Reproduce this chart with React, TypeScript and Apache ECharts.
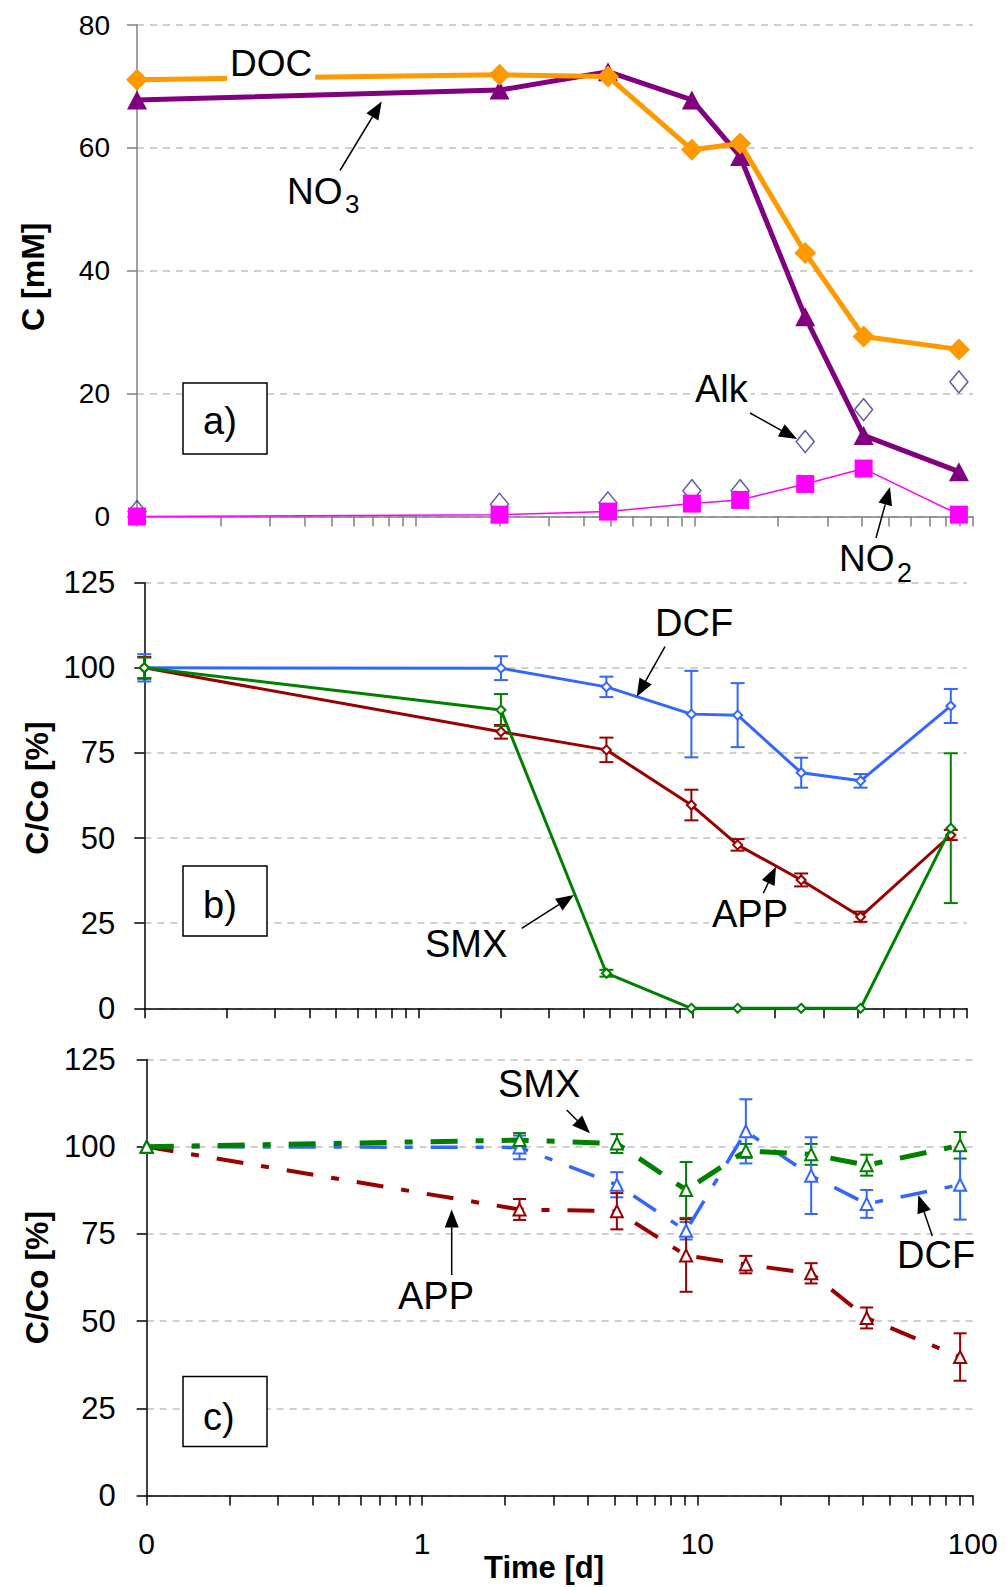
import React, { useEffect, useRef } from 'react';
import * as echarts from 'echarts';

const FONT = '"Liberation Sans", Arial, Helvetica, sans-serif';

// ---------- Panel a) concentrations [mM] ----------
const timeA = [0, 2, 4.9, 9.8, 14.6, 25, 40.5, 89];
const docA = [71.1, 71.9, 71.6, 59.7, 60.7, 42.9, 29.3, 27.2];
const no3A = [67.8, 69.4, 72.4, 67.8, 58.6, 32.5, 13.2, 7.3];
const no2A = [0, 0.3, 0.8, 2.1, 2.7, 5.3, 7.8, 0.3];
const alkA = [0.8, 2.0, 2.2, 4.2, 4.2, 12.2, 17.4, 21.9];

// ---------- Panel b) C/Co [%] (solid lines) ----------
const timeB = [0, 2, 4.85, 9.9, 14.6, 24.9, 41, 87.5];
const dcfB = [100, 99.9, 94.4, 86.4, 86.1, 69.2, 66.8, 88.8];
const dcfErrB = [4, 3.5, 3, 12.7, 9.4, 4.4, 2, 5];
const appB = [100, 81.2, 75.9, 59.7, 48.0, 37.7, 26.9, 50.9];
const appErrB = [3.2, 2, 3.6, 4.5, 1.7, 1.9, 1.5, 1.5];
const smxB = [100, 87.6, 10.3, 0, 0, 0, 0, 52.9];
const smxErrB = [3, 4.7, 1, 0, 0, 0, 0, 22];

// ---------- Panel c) C/Co [%] (dash-dot lines) ----------
const timeC = [0, 2.26, 5.1, 9.1, 15, 25.9, 41.2, 90];
const smxC = [100, 101.9, 100.9, 87.6, 98.8, 97.8, 94.7, 100.4];
const smxErrC = [0, 2, 2.7, 8, 2, 3, 3, 3.8];
const dcfC = [100, 99.8, 89.1, 75.9, 104.4, 91.7, 83.6, 89.1];
const dcfErrC = [0, 3.4, 3.6, 2.5, 9.2, 11, 4, 10];
const appC = [100, 82.0, 81.5, 68.8, 66.2, 63.7, 50.9, 39.7];
const appErrC = [0, 3, 5.2, 10.4, 2.5, 2.9, 3, 6.8];

const xTickLabels = ['0', '1', '10', '100'];
const xAxisTitle = 'Time [d]';

const ORANGE = '#FF9900';
const PURPLE = '#800080';
const MAGENTA = '#FF00FF';
const NAVY = '#333399';
const BLUE = '#3366FF';
const RED = '#990000';
const GREEN = '#008000';
const GRIDC = '#c0c0c0';

// time 0 is drawn at the left end (0.1) of the log axis
const onLog = (t: number) => (t === 0 ? 0.1 : t);
const pts = (times: number[], vals: number[]) => times.map((t, i) => [onLog(t), vals[i]]);

function errSeries(idx: number, times: number[], means: number[], errs: number[], color: string, capW: number, lw: number) {
  const data = times
    .map((t, i) => [onLog(t), means[i] - errs[i], means[i] + errs[i]])
    .filter((d) => d[2] - d[1] > 0);
  return {
    type: 'custom',
    xAxisIndex: idx,
    yAxisIndex: idx,
    data,
    encode: { x: 0, y: [1, 2] },
    silent: true,
    z: 3,
    renderItem: (params: any, api: any) => {
      const x = api.value(0);
      const a = api.coord([x, api.value(2)]);
      const b = api.coord([x, api.value(1)]);
      const h = capW / 2;
      const st = { stroke: color, lineWidth: lw };
      return {
        type: 'group',
        children: [
          { type: 'line', shape: { x1: a[0], y1: a[1], x2: b[0], y2: b[1] }, style: st },
          { type: 'line', shape: { x1: a[0] - h, y1: a[1], x2: a[0] + h, y2: a[1] }, style: st },
          { type: 'line', shape: { x1: b[0] - h, y1: b[1], x2: b[0] + h, y2: b[1] }, style: st },
        ],
      };
    },
  };
}

function arrow(x1: number, y1: number, x2: number, y2: number, headLen = 18, headW = 14) {
  const dx = x2 - x1;
  const dy = y2 - y1;
  const L = Math.hypot(dx, dy);
  const ux = dx / L;
  const uy = dy / L;
  const bx = x2 - ux * headLen;
  const by = y2 - uy * headLen;
  const px = (-uy * headW) / 2;
  const py = (ux * headW) / 2;
  return [
    { type: 'line', z: 100, shape: { x1, y1, x2: bx, y2: by }, style: { stroke: '#000', lineWidth: 1.5 } },
    {
      type: 'polygon',
      z: 100,
      shape: { points: [[x2, y2], [bx + px, by + py], [bx - px, by - py]] },
      style: { fill: '#000' },
    },
  ];
}

function label(text: string, x: number, y: number, size = 37, bg = true) {
  return {
    type: 'text',
    z: 99,
    x,
    y,
    style: {
      text,
      fontSize: size,
      fontFamily: FONT,
      fill: '#000',
      align: 'left',
      verticalAlign: 'middle',
      backgroundColor: bg ? '#fff' : undefined,
      padding: bg ? [0, 3] : 0,
    },
  };
}

function panelBox(txt: string, x: number, y: number, w: number, h: number, ty: number) {
  return [
    { type: 'rect', z: 98, shape: { x, y, width: w, height: h }, style: { fill: '#fff', stroke: '#000', lineWidth: 1.5 } },
    label(txt, x + 20, ty, 38, false),
  ];
}

function xAxisCfg(idx: number, color: string, showLabels: boolean) {
  return {
    gridIndex: idx,
    type: 'log',
    logBase: 10,
    min: 0.1,
    max: 100,
    axisLine: { show: true, onZero: false, lineStyle: { color, width: 1.5 } },
    axisTick: { show: true, length: 10, lineStyle: { color, width: 1.5 } },
    minorTick: { show: true, splitNumber: 9, length: 10, lineStyle: { color, width: 1.5 } },
    splitLine: { show: false },
    minorSplitLine: { show: false },
    axisLabel: {
      show: showLabels,
      fontSize: 30,
      fontFamily: FONT,
      color: '#000',
      margin: 33,
      formatter: (v: number) => xTickLabels[Math.round(Math.log10(v)) + 1] ?? String(v),
    },
  };
}

function yAxisCfg(idx: number, max: number, interval: number, color: string, fs: number, margin: number, name: string, nameGap: number, padding: number[]) {
  return {
    gridIndex: idx,
    type: 'value',
    min: 0,
    max,
    interval,
    axisLine: { show: true, onZero: false, lineStyle: { color, width: 1.5 } },
    axisTick: { show: true, length: 10, lineStyle: { color, width: 1.5 } },
    axisLabel: { fontSize: fs, fontFamily: FONT, color: '#000', margin },
    splitLine: { show: true, lineStyle: { color: GRIDC, type: [7, 6], width: 1.5 } },
    name,
    nameLocation: 'middle',
    nameRotate: 90,
    nameGap,
    nameTextStyle: { fontSize: 32, fontWeight: 'bold', fontFamily: FONT, color: '#000', padding },
  };
}

const DASHDOT = [27, 18, 8, 18];

export default function App() {
  const ref = useRef<HTMLDivElement>(null);

  useEffect(() => {
    if (!ref.current) return;
    const chart = echarts.init(ref.current, undefined, { renderer: 'svg' });

    const option: any = {
      animation: false,
      backgroundColor: '#ffffff',
      grid: [
        { left: 137, top: 25, width: 836, height: 491.5, outerBoundsMode: 'none', containLabel: false },
        { left: 144.3, top: 582.7, width: 822.4, height: 425.6, outerBoundsMode: 'none', containLabel: false },
        { left: 146.7, top: 1059.5, width: 826, height: 436, outerBoundsMode: 'none', containLabel: false },
      ],
      xAxis: [xAxisCfg(0, '#808080', false), xAxisCfg(1, '#000', false), xAxisCfg(2, '#000', true)],
      yAxis: [
        yAxisCfg(0, 80, 20, '#808080', 28, 27, 'C [mM]', 88, [0, 12, 0, 0]),
        yAxisCfg(1, 125, 25, '#000', 31, 29, 'C/Co [%]', 80, [0, 0, 0, 15]),
        yAxisCfg(2, 125, 25, '#000', 31, 31, 'C/Co [%]', 87, [0, 0, 0, 0]),
      ],
      series: [
        // ----- panel a -----
        {
          name: 'Alk',
          type: 'scatter',
          xAxisIndex: 0,
          yAxisIndex: 0,
          data: pts(timeA, alkA),
          symbol: 'diamond',
          symbolSize: [18, 22],
          itemStyle: { color: 'rgba(255,255,255,0)', borderColor: NAVY, borderWidth: 1.5 },
          z: 2,
        },
        {
          name: 'NO2',
          type: 'line',
          xAxisIndex: 0,
          yAxisIndex: 0,
          data: pts(timeA, no2A),
          symbol: 'rect',
          symbolSize: 18,
          itemStyle: { color: MAGENTA },
          lineStyle: { color: MAGENTA, width: 1.5 },
          z: 3,
        },
        {
          name: 'NO3',
          type: 'line',
          xAxisIndex: 0,
          yAxisIndex: 0,
          data: pts(timeA, no3A),
          symbol: 'triangle',
          symbolSize: [20, 19],
          itemStyle: { color: PURPLE },
          lineStyle: { color: PURPLE, width: 5 },
          z: 4,
        },
        {
          name: 'DOC',
          type: 'line',
          xAxisIndex: 0,
          yAxisIndex: 0,
          data: pts(timeA, docA),
          symbol: 'diamond',
          symbolSize: 22,
          itemStyle: { color: ORANGE },
          lineStyle: { color: ORANGE, width: 5 },
          z: 5,
        },
        // ----- panel b -----
        errSeries(1, timeB, dcfB, dcfErrB, BLUE, 14, 2),
        errSeries(1, timeB, appB, appErrB, RED, 14, 2),
        errSeries(1, timeB, smxB, smxErrB, GREEN, 14, 2),
        {
          name: 'DCF b',
          type: 'line',
          xAxisIndex: 1,
          yAxisIndex: 1,
          data: pts(timeB, dcfB),
          symbol: 'emptyDiamond',
          symbolSize: 9,
          itemStyle: { color: BLUE, borderWidth: 1.5 },
          lineStyle: { color: BLUE, width: 3 },
          z: 4,
        },
        {
          name: 'APP b',
          type: 'line',
          xAxisIndex: 1,
          yAxisIndex: 1,
          data: pts(timeB, appB),
          symbol: 'emptyDiamond',
          symbolSize: 9,
          itemStyle: { color: RED, borderWidth: 1.5 },
          lineStyle: { color: RED, width: 3 },
          z: 4,
        },
        {
          name: 'SMX b',
          type: 'line',
          xAxisIndex: 1,
          yAxisIndex: 1,
          data: pts(timeB, smxB),
          symbol: 'emptyDiamond',
          symbolSize: 9,
          itemStyle: { color: GREEN, borderWidth: 1.5 },
          lineStyle: { color: GREEN, width: 3 },
          z: 5,
        },
        // ----- panel c -----
        errSeries(2, timeC, smxC, smxErrC, GREEN, 13, 2),
        errSeries(2, timeC, dcfC, dcfErrC, BLUE, 13, 2),
        errSeries(2, timeC, appC, appErrC, RED, 13, 2),
        {
          name: 'APP c',
          type: 'line',
          xAxisIndex: 2,
          yAxisIndex: 2,
          data: pts(timeC, appC),
          symbol: 'emptyTriangle',
          symbolSize: 12,
          itemStyle: { color: RED, borderWidth: 1.5 },
          lineStyle: { color: RED, width: 4, type: DASHDOT },
          z: 4,
        },
        {
          name: 'DCF c',
          type: 'line',
          xAxisIndex: 2,
          yAxisIndex: 2,
          data: pts(timeC, dcfC),
          symbol: 'emptyTriangle',
          symbolSize: 12,
          itemStyle: { color: BLUE, borderWidth: 1.5 },
          lineStyle: { color: BLUE, width: 3.5, type: DASHDOT },
          z: 4,
        },
        {
          name: 'SMX c',
          type: 'line',
          xAxisIndex: 2,
          yAxisIndex: 2,
          data: pts(timeC, smxC),
          symbol: 'emptyTriangle',
          symbolSize: 12,
          itemStyle: { color: GREEN, borderWidth: 1.5 },
          lineStyle: { color: GREEN, width: 5, type: DASHDOT },
          z: 5,
        },
      ],
      graphic: {
        elements: [
          // x-axis title
          {
            type: 'text',
            z: 99,
            x: 544,
            y: 1567,
            style: {
              text: xAxisTitle,
              fontSize: 31,
              fontWeight: 'bold',
              fontFamily: FONT,
              fill: '#000',
              align: 'center',
              verticalAlign: 'middle',
            },
          },
          // panel a
          ...panelBox('a)', 183, 383, 84, 71, 421),
          label('DOC', 227, 63.5, 37),
          label('NO', 287, 191, 37, false),
          label('3', 345, 204, 26, false),
          ...arrow(340, 170.5, 381.7, 101.6),
          label('Alk', 692, 389, 38),
          ...arrow(750, 413, 797, 439),
          label('NO', 839, 558, 37, false),
          label('2', 897, 573, 27, false),
          ...arrow(876, 538, 890, 487),
          // panel b
          ...panelBox('b)', 183, 866, 84, 70, 905),
          label('DCF', 652, 622.5, 38),
          ...arrow(665, 646.7, 636.7, 696.7),
          label('APP', 709, 913.5, 38),
          ...arrow(763.3, 893.3, 776, 866.7),
          label('SMX', 422, 944, 38),
          ...arrow(521.7, 928.3, 574, 895),
          // panel c
          ...panelBox('c)', 183, 1376.4, 84, 70, 1417),
          label('SMX', 495, 1084, 38),
          ...arrow(566.7, 1110, 590, 1133.3),
          label('APP', 395, 1296, 38),
          ...arrow(451.7, 1275, 451.7, 1209.4),
          label('DCF', 894, 1255, 38),
          ...arrow(932.3, 1236, 918.3, 1195),
        ],
      },
    };

    chart.setOption(option);
    return () => chart.dispose();
  }, []);

  return (
    <div
      ref={ref}
      style={{ position: 'absolute', left: 0, top: 0, width: 1005, height: 1587, background: '#fff' }}
    />
  );
}
